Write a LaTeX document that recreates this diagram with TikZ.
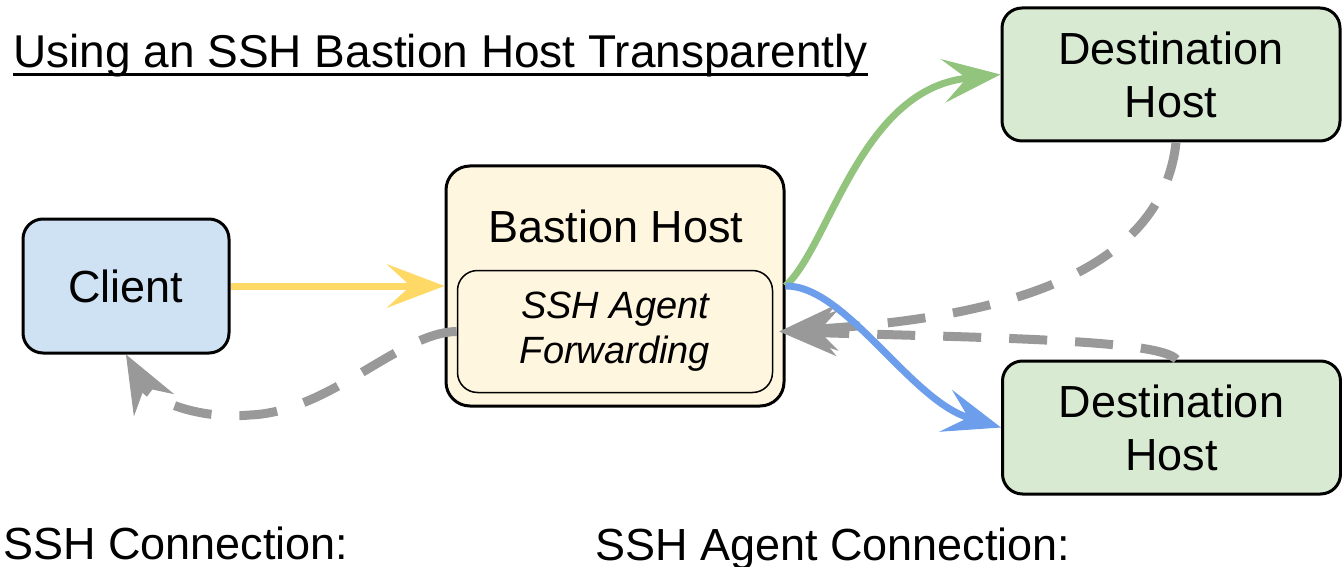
\documentclass[tikz,border=0pt]{standalone}
\usepackage{fontspec}
\setmainfont{Liberation Sans}
\usetikzlibrary{arrows.meta,calc}
\definecolor{clientfill}{HTML}{CFE2F3}
\definecolor{destfill}{HTML}{D9EAD3}
\definecolor{bastfill}{HTML}{FFF6DF}
\definecolor{sshyellow}{HTML}{FFD966}
\definecolor{sshgreen}{HTML}{93C47D}
\definecolor{sshblue}{HTML}{6D9EEB}
\definecolor{agentgray}{HTML}{999999}
\tikzset{
  bigtip/.tip={Stealth[length=58pt,width=44pt,inset=24pt,line width=1pt]},
  graytip/.tip={Stealth[length=58pt,width=46pt,inset=20pt,line width=1pt]},
}
\begin{document}
\begin{tikzpicture}[x=1pt,y=-1pt,
  box/.style={draw=black, line width=3pt, rounded corners=20pt, inner sep=0pt,
    align=center, font=\fontsize{45}{53}\selectfont},
  txt/.style={inner sep=0pt, font=\fontsize{45}{53}\selectfont},
  conn/.style={line width=7pt, -bigtip},
  agentconn/.style={draw=agentgray, line width=9pt, dash pattern=on 38pt off 28pt, -graytip},
]
\useasboundingbox (0,0) rectangle (1342,567);

% title
\node[txt, anchor=base west, font=\fontsize{46}{55}\selectfont] (title) at (13,68)
  {Using an SSH Bastion Host Transparently};
\draw[line width=3pt] ($(title.base west)+(0,7)$) -- ($(title.base east)+(0,7)$);

% boxes
\node[box, fill=clientfill, minimum width=206pt, minimum height=134pt] (client) at (126,286) {Client};
\node[box, fill=bastfill, minimum width=338pt, minimum height=240pt, rounded corners=24pt] (bastion) at (615,286) {};
\node[txt, anchor=base] (bastionlabel) at (616,242) {Bastion Host};
\node[draw=black, line width=1.5pt, rounded corners=20pt, fill=bastfill, inner sep=0pt,
  minimum width=315pt, minimum height=122pt, align=center,
  font=\itshape\fontsize{38}{45}\selectfont] (agent) at (615,331.5) {SSH Agent\\Forwarding};
\node[box, fill=destfill, minimum width=338pt, minimum height=133pt] (dest1) at (1171,74.5) {Destination\\Host};
\node[box, fill=destfill, minimum width=338pt, minimum height=133pt] (dest2) at (1171.5,427.5) {Destination\\Host};

% agent connections
\coordinate (dip) at (250,415);
\draw[agentconn] ($(dest1.south)+(5,0)$) .. controls (1160,290) and (960,320) .. ($(agent.east)+(6,0)$);
\draw[agentconn] ($(dest2.north)+(5,0)$) .. controls (1160,340) and (1000,338) .. ($(agent.east)+(6,0)$);
\draw[agentconn] (agent.west) .. controls (400,332) and (330,412) .. (dip)
  .. controls (195,420) and (150,398) .. (client.south);

% ssh connections
\draw[conn, draw=sshyellow] (client.east) -- (bastion.west);
\draw[conn, draw=sshgreen] (bastion.east) .. controls (830,245) and (860,90) .. (dest1.west);
\draw[conn, draw=sshblue] (bastion.east) .. controls (845,285) and (910,400) .. (dest2.west);

% legend labels
\node[txt, anchor=base west] (sshconn) at (3,559) {SSH Connection:};
\node[txt, anchor=base west] (agentconnlabel) at (595,560) {SSH Agent Connection:};
\end{tikzpicture}
\end{document}
